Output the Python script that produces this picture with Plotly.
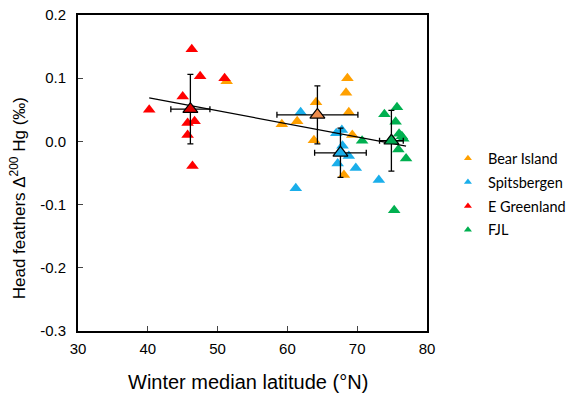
import plotly.graph_objects as go

# ---- data ----
bear_x = [51.3, 68.6, 68.4, 64.1, 68.8, 61.4, 59.2, 63.8, 69.3, 68.1]
bear_y = [0.095, 0.100, 0.077, 0.062, 0.046, 0.032, 0.027, 0.002, 0.010, -0.053]

spits_x = [61.9, 67.0, 67.8, 67.9, 68.8, 67.2, 69.8, 61.2, 73.1]
spits_y = [0.046, 0.013, 0.018, -0.007, -0.023, -0.035, -0.042, -0.074, -0.061]

greenl_x = [46.3, 47.5, 51.0, 45.0, 40.2, 45.7, 46.7, 45.7, 46.4]
greenl_y = [0.146, 0.103, 0.100, 0.071, 0.050, 0.029, 0.032, 0.010, -0.039]

fjl_x = [75.7, 73.9, 75.5, 76.0, 76.4, 76.6, 70.7, 75.9, 77.0, 75.3]
fjl_y = [0.054, 0.043, 0.031, 0.012, 0.008, 0.004, 0.001, -0.013, -0.027, -0.109]

group_names = ["Bear Island", "Spitsbergen", "E Greenland", "FJL"]
group_colors = ["#FFA000", "#1AAEEA", "#FF0000", "#00B050"]
mean_colors = ["#EE8C4C", "#1AAEEA", "#E00000", "#00A850"]
mean_x = [64.3, 67.6, 46.1, 74.9]
mean_y = [0.042, -0.018, 0.051, 0.001]
sd_x = [5.8, 3.7, 2.8, 1.7]
sd_y = [0.046, 0.039, 0.055, 0.048]

reg_slope = -0.00207
reg_intercept = 0.152
reg_x = [40.2, 77.0]

x_ticks = [30, 40, 50, 60, 70, 80]
y_ticks = [-0.3, -0.2, -0.1, 0.0, 0.1, 0.2]
y_ticktext = ["-0.3", "-0.2", "-0.1", "0.0", "0.1", "0.2"]

x_title = "Winter median latitude (°N)"
y_title = "Head feathers Δ<sup>200</sup> Hg (‰)"

fig = go.Figure()

series = [(bear_x, bear_y), (spits_x, spits_y), (greenl_x, greenl_y), (fjl_x, fjl_y)]
for (xs, ys), name, col in zip(series, group_names, group_colors):
    fig.add_trace(go.Scatter(
        x=xs, y=ys, mode="markers", name=name, showlegend=False,
        marker=dict(symbol="triangle-up", size=11, color=col, line=dict(width=0)),
    ))

# regression line
fig.add_trace(go.Scatter(
    x=reg_x, y=[reg_intercept + reg_slope * v for v in reg_x],
    mode="lines", line=dict(color="black", width=1.2), showlegend=False,
))

# group means with SD error bars
for i in range(4):
    fig.add_trace(go.Scatter(
        x=[mean_x[i]], y=[mean_y[i]], mode="markers", showlegend=False,
        marker=dict(symbol="triangle-up", size=13, color=mean_colors[i],
                    line=dict(color="black", width=1.2)),
        error_x=dict(type="data", array=[sd_x[i]], color="black", thickness=1.3, width=3),
        error_y=dict(type="data", array=[sd_y[i]], color="black", thickness=1.3, width=3),
    ))

# legend entries (small symbols)
for name, col in zip(group_names, group_colors):
    fig.add_trace(go.Scatter(
        x=[None], y=[None], mode="markers", name=name, legendgroup=name,
        marker=dict(symbol="triangle-up", size=7, color=col, line=dict(width=0)),
    ))

fig.update_layout(
    width=571, height=397,
    margin=dict(l=78, r=144, t=15, b=66, autoexpand=False),
    paper_bgcolor="white", plot_bgcolor="white",
    font=dict(family="Liberation Sans", color="black"),
    legend=dict(x=1.06, y=0.597, xanchor="left", yanchor="top",
                font=dict(family="Lato", size=14.5),
                bgcolor="rgba(0,0,0,0)",
                traceorder="grouped", tracegroupgap=2),
    xaxis=dict(range=[30, 80], tickvals=x_ticks, ticks="inside", ticklen=5,
               showline=True, linecolor="black", linewidth=2, mirror=True,
               showgrid=False, zeroline=False, automargin=False,
               ticklabelstandoff=3,
               tickfont=dict(size=15)),
    yaxis=dict(range=[-0.3, 0.2], tickvals=y_ticks, ticktext=y_ticktext,
               ticks="inside", ticklen=5,
               showline=True, linecolor="black", linewidth=2, mirror=True,
               showgrid=False, zeroline=False, automargin=False,
               ticklabelstandoff=7,
               tickfont=dict(size=15)),
    annotations=[
        dict(text=x_title, xref="paper", yref="paper", x=0.4857, y=-0.161,
             xanchor="center", yanchor="middle", showarrow=False,
             font=dict(size=20)),
        dict(text=y_title, xref="paper", yref="paper", x=-0.172, y=0.42,
             xanchor="center", yanchor="middle", showarrow=False, textangle=-90,
             font=dict(size=17)),
    ],
)

fig.write_html("out.html", config={"displayModeBar": False},
               post_script="document.body.style.margin='0';")
